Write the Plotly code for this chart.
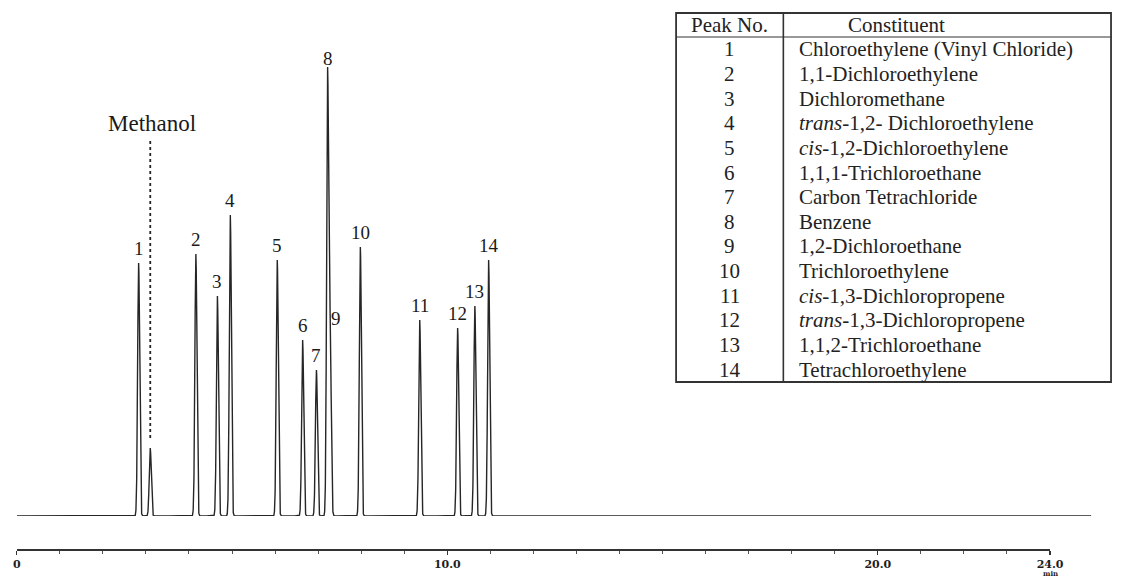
import numpy as np
import plotly.graph_objects as go

# ---------------- data ----------------
peak_labels = ["1", "2", "3", "4", "5", "6", "7", "8", "9", "10", "11", "12", "13", "14"]
retention_min = [2.83, 4.16, 4.66, 4.96, 6.05, 6.64, 6.96, 7.22, 7.28, 7.98, 9.36, 10.24, 10.64, 10.96]
peak_height = [253, 262, 220, 301, 256, 176, 146, 443, 183, 269, 196, 188, 210, 256]

methanol_rt = 3.10
methanol_height = 68

table_header = ["Peak No.", "Constituent"]
constituents = [
    "Chloroethylene (Vinyl Chloride)",
    "1,1-Dichloroethylene",
    "Dichloromethane",
    "<i>trans</i>-1,2- Dichloroethylene",
    "<i>cis</i>-1,2-Dichloroethylene",
    "1,1,1-Trichloroethane",
    "Carbon Tetrachloride",
    "Benzene",
    "1,2-Dichloroethane",
    "Trichloroethylene",
    "<i>cis</i>-1,3-Dichloropropene",
    "<i>trans</i>-1,3-Dichloropropene",
    "1,1,2-Trichloroethane",
    "Tetrachloroethylene",
]

tick_vals = [0, 10, 20, 24]
tick_text = ["0", "10.0", "20.0", "24.0"]

# ---------------- layout constants ----------------
W, H = 1127, 579
PX_PER_MIN = 43.75
SIGMA = 0.023
INK = "#262626"
SERIF = "Liberation Serif"

# table geometry (pixels)
TB_L, TB_R, TB_T, TB_B = 683, 1125, 13, 382
TB_DIV = 792
HEAD_H = 24
ROW_H = (TB_B - TB_T - HEAD_H) / len(peak_labels)


def fx(p):
    return p / W


def fy(p):
    return 1 - p / H


# chromatogram trace built from the peak list
t_end = (1105 - 13) / PX_PER_MIN
t = np.arange(0, t_end, 0.002)
signal = np.zeros_like(t)
for rt, h in zip(retention_min + [methanol_rt], peak_height + [methanol_height]):
    signal += h * np.exp(-0.5 * ((t - rt) / SIGMA) ** 2)

fig = go.Figure()
fig.add_trace(go.Scatter(
    x=t, y=signal, mode="lines",
    line=dict(color=INK, width=1.4),
    hoverinfo="skip", showlegend=False,
))
fig.add_trace(go.Scatter(
    x=[0, 24], y=[0, 0], xaxis="x2", yaxis="y2", mode="markers",
    marker=dict(opacity=0), hoverinfo="skip", showlegend=False,
))

annotations = []
# peak number labels
for lab, rt, h in zip(peak_labels, retention_min, peak_height):
    xshift = 6 if lab == "9" else 0
    annotations.append(dict(
        x=rt, y=h, xref="x", yref="y", text=lab, showarrow=False,
        yanchor="bottom", yshift=2, xshift=xshift,
        font=dict(family=SERIF, size=19, color="#1a1a1a"),
    ))
annotations.append(dict(
    x=methanol_rt, y=393, xref="x", yref="y", text="Methanol", showarrow=False,
    xshift=2, font=dict(family=SERIF, size=23, color="#1a1a1a"),
))
annotations.append(dict(
    x=24, y=0, xref="x2", yref="paper", text="min", showarrow=False,
    yanchor="bottom", yshift=-1,
    font=dict(family="DejaVu Serif", size=7, color="#222", weight="bold"),
))

# table text
TFONT = dict(family=SERIF, size=21, color="#222")
annotations.append(dict(
    x=fx((TB_L + TB_DIV) / 2), y=fy(TB_T + HEAD_H / 2), xref="paper", yref="paper",
    text=table_header[0], showarrow=False, font=TFONT, yanchor="middle"))
annotations.append(dict(
    x=fx((TB_DIV + TB_R) / 2), y=fy(TB_T + HEAD_H / 2), xref="paper", yref="paper",
    text=table_header[1], showarrow=False, font=TFONT, yanchor="middle"))
for i, (lab, name) in enumerate(zip(peak_labels, constituents)):
    yc = fy(TB_T + HEAD_H + (i + 0.5) * ROW_H)
    annotations.append(dict(
        x=fx((TB_L + TB_DIV) / 2), y=yc, xref="paper", yref="paper",
        text=lab, showarrow=False, font=TFONT, yanchor="middle"))
    annotations.append(dict(
        x=fx(TB_DIV + 14), y=yc, xref="paper", yref="paper", xanchor="left",
        text=name, showarrow=False, font=TFONT, yanchor="middle"))

shapes = [
    dict(type="line", xref="x", yref="y", x0=methanol_rt, x1=methanol_rt,
         y0=methanol_height + 10, y1=375,
         line=dict(color=INK, width=1.8, dash="dot")),
    dict(type="rect", xref="paper", yref="paper", x0=fx(TB_L), x1=fx(TB_R),
         y0=fy(TB_B), y1=fy(TB_T), line=dict(color="#333", width=1.8)),
    dict(type="line", xref="paper", yref="paper", x0=fx(TB_L), x1=fx(TB_R),
         y0=fy(TB_T + HEAD_H), y1=fy(TB_T + HEAD_H), line=dict(color="#333", width=1)),
    dict(type="line", xref="paper", yref="paper", x0=fx(TB_DIV), x1=fx(TB_DIV),
         y0=fy(TB_B), y1=fy(TB_T), line=dict(color="#333", width=1.6)),
]

fig.update_layout(
    width=W, height=H, autosize=False,
    margin=dict(l=0, r=0, t=0, b=0),
    paper_bgcolor="white", plot_bgcolor="rgba(0,0,0,0)",
    showlegend=False,
    xaxis=dict(domain=[fx(13), fx(1105)], range=[0, t_end], visible=False, fixedrange=True),
    yaxis=dict(domain=[fy(516), fy(60)], range=[0, 456], visible=False, fixedrange=True),
    xaxis2=dict(
        domain=[fx(13), fx(1063)], range=[0, 24], anchor="y2",
        showline=True, linecolor="#333", linewidth=1.5,
        ticks="outside", ticklen=4, tickwidth=1.2, tickcolor="#333",
        tickvals=tick_vals, ticktext=tick_text,
        tickfont=dict(family="DejaVu Serif", size=11, color="#1e1e1e", weight="bold"),
        minor=dict(dtick=1, ticks="outside", ticklen=3, tickcolor="#555", tickwidth=1),
        showgrid=False, zeroline=False, fixedrange=True,
    ),
    yaxis2=dict(domain=[fy(549), fy(540)], range=[0, 1], anchor="x2",
                visible=False, fixedrange=True),
    annotations=annotations,
    shapes=shapes,
)

fig.write_html(
    "out.html",
    config={"displayModeBar": False, "staticPlot": True},
    post_script=(
        "document.body.style.margin='0';"
        "document.body.style.overflow='hidden';"
        "document.documentElement.style.overflow='hidden';"
    ),
)
